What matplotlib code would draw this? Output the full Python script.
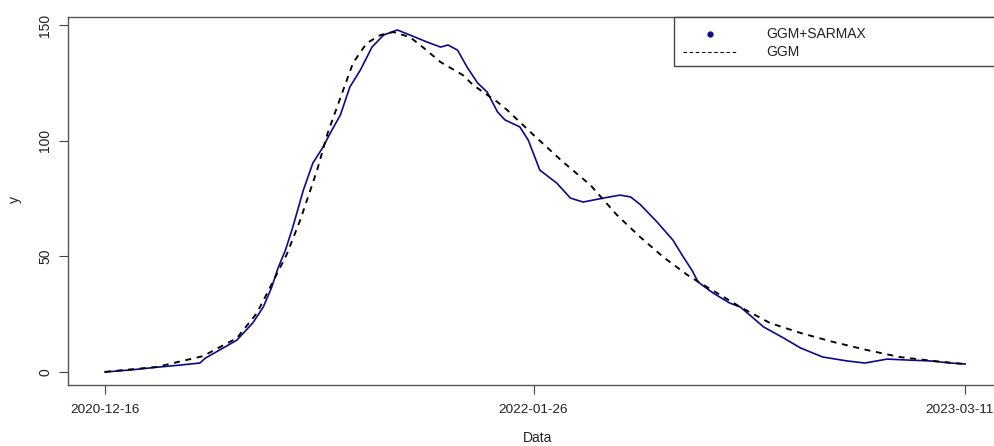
import numpy as np
import matplotlib
matplotlib.use("Agg")
import matplotlib.pyplot as plt
import matplotlib.dates as mdates
import matplotlib.transforms as mtransforms
from matplotlib.patches import Rectangle

plt.rcParams['font.family'] = ['Liberation Sans', 'DejaVu Sans']

# Data (day offset from start date, value)
start_date = np.datetime64('2020-12-16')

sarmax_days = [0, 24, 52, 71, 90, 95, 112, 125, 140, 150, 158, 164, 171, 178, 188,
               197, 206, 215, 223, 232, 242, 253, 264, 277, 289, 305, 318, 325, 334,
               343, 353, 362, 372, 379, 393, 401, 412, 428, 441, 453, 472, 488, 498,
               507, 523, 538, 548, 556, 562, 576, 592, 602, 611, 624, 643, 659, 680,
               703, 720, 741, 760, 782, 801, 815]
sarmax_vals = [0.0, 0.9, 2.2, 3.0, 3.9, 6.0, 10.4, 13.8, 21.2, 28.1, 36.7, 45.0, 52.7,
               62.7, 78.7, 90.4, 96.8, 104.6, 111.1, 123.2, 130.6, 140.5, 145.7, 147.9,
               145.7, 142.7, 140.5, 141.4, 139.2, 131.9, 125.0, 121.1, 112.4, 109.0,
               106.0, 100.3, 87.3, 81.7, 75.2, 73.5, 75.2, 76.5, 75.7, 72.5, 64.9, 57.1,
               49.7, 44.1, 38.9, 34.2, 29.8, 28.1, 24.6, 19.5, 14.7, 10.4, 6.5, 4.8, 3.9,
               5.6, 5.2, 4.8, 3.9, 3.5]

ggm_days = [0, 49, 93, 125, 144, 159, 172, 185, 201, 211, 223, 235, 248, 261, 273,
            289, 301, 318, 339, 349, 372, 381, 406, 434, 460, 485, 507, 529, 552, 564,
            583, 602, 630, 659, 690, 722, 753, 785, 813]
ggm_vals = [0.1, 2.2, 6.9, 14.7, 25.5, 38.9, 50.6, 65.7, 87.3, 103.3, 118.5, 133.6,
            142.2, 145.7, 147.0, 144.8, 140.5, 134.0, 128.4, 124.0, 116.7, 113.3, 102.5,
            90.8, 80.8, 67.9, 58.4, 49.7, 41.9, 38.5, 33.3, 28.1, 21.2, 16.9, 13.0, 9.5,
            6.5, 4.8, 3.5]

tick_labels = ['2020-12-16', '2022-01-26', '2023-03-11']
y_ticks = [0, 50, 100, 150]

sarmax_dates = start_date + np.array(sarmax_days).astype('timedelta64[D]')
ggm_dates = start_date + np.array(ggm_days).astype('timedelta64[D]')

W, H = 994, 446
fig = plt.figure(figsize=(W / 100, H / 100), dpi=100)
# axes box in pixels: left 68, right ~999 (cut off like the original), top 17, bottom 385
ax = fig.add_axes([68 / W, (H - 385) / H, (999 - 68) / W, (385 - 17) / H])

blue = '#0a0a8c'
ax.plot(sarmax_dates, sarmax_vals, color=blue, lw=1.2, zorder=3)
ax.plot(ggm_dates, ggm_vals, color='black', lw=1.35, dashes=(3.2, 3.0), zorder=4)

ax.set_xlim(start_date - np.timedelta64(35, 'D'), start_date + np.timedelta64(847, 'D'))
ax.set_ylim(-5.6, 153.5)

ax.set_xticks([np.datetime64(t) for t in tick_labels])
ax.xaxis.set_major_formatter(mdates.DateFormatter('%Y-%m-%d'))
ax.set_yticks(y_ticks)
for lbl in ax.get_yticklabels():
    lbl.set_rotation(90)
    lbl.set_va('center')

ax.tick_params(axis='both', length=6.5, width=0.8, color='#444444',
               labelsize=10, labelcolor='#222222')
ax.tick_params(axis='x', pad=7, labelsize=9.7)
ax.tick_params(axis='y', pad=5)

# nudge the last date label so it stays inside the picture
last = ax.get_xticklabels()[-1]
last.set_transform(last.get_transform() +
                   mtransforms.ScaledTranslation(-6 / 100, 0, fig.dpi_scale_trans))

for s in ax.spines.values():
    s.set_color('#555555')
    s.set_linewidth(1.0)

fig.text(538 / W, 1 - 438 / H, 'Data', ha='center', va='center',
         fontsize=10, color='#222222')
fig.text(15 / W, 1 - 200 / H, 'y', ha='center', va='center', rotation=90,
         fontsize=10, color='#222222')

# legend box (top right, drawn like R's legend)
def ax_x(px):
    return (px - 68) / (999 - 68)

def ax_y(py):
    return (385 - py) / (385 - 17)

ax.add_patch(Rectangle((ax_x(674), ax_y(66)), 1 - ax_x(674), ax_y(17) - ax_y(66),
                       transform=ax.transAxes, facecolor='white', edgecolor='#444444',
                       lw=1.0, zorder=5, clip_on=False))
ax.plot([ax_x(710)], [ax_y(34)], 'o', color=blue, ms=3.5, transform=ax.transAxes,
        zorder=6, clip_on=False)
ax.plot([ax_x(683), ax_x(738)], [ax_y(52), ax_y(52)], color='black', lw=0.75,
        dashes=(3.4, 2.5), transform=ax.transAxes, zorder=6, clip_on=False)
ax.text(ax_x(766), ax_y(34), 'GGM+SARMAX', transform=ax.transAxes, va='center',
        ha='left', fontsize=10, color='#222222', zorder=6)
ax.text(ax_x(766), ax_y(52), 'GGM', transform=ax.transAxes, va='center',
        ha='left', fontsize=10, color='#222222', zorder=6)

fig.savefig('out.png', dpi=100)
